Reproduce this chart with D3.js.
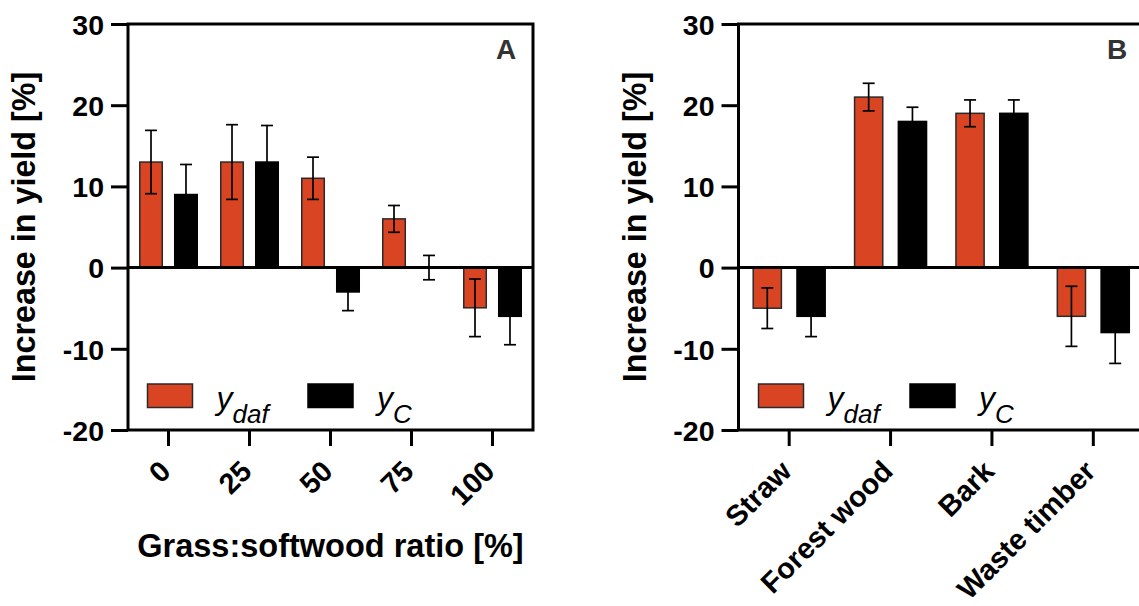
<!DOCTYPE html>
<html>
<head>
<meta charset="utf-8">
<script src="https://cdn.jsdelivr.net/npm/d3@7"></script>
<style>
  html, body { margin: 0; padding: 0; background: #fff; }
  svg { display: block; font-family: "Liberation Sans", Arial, Helvetica, sans-serif; }
</style>
</head>
<body>
<svg id="chart" width="1139" height="606"></svg>
<script>
// ---- data ----
const categoriesA = ["0", "25", "50", "75", "100"];
const ydafA = [13, 13, 11, 6, -4.95];
const ydafErrA = [3.9, 4.6, 2.6, 1.65, 3.55];
const yCA = [9, 13, -3, 0, -6];
const yCErrA = [3.7, 4.5, 2.3, 1.5, 3.5];

const categoriesB = ["Straw", "Forest wood", "Bark", "Waste timber"];
const ydafB = [-5, 21, 19, -6];
const ydafErrB = [2.5, 1.7, 1.65, 3.7];
const yCB = [-6, 18, 19, -8];
const yCErrB = [2.5, 1.75, 1.65, 3.8];

const yTicks = [-20, -10, 0, 10, 20, 30];
const seriesNames = ["ydaf", "yC"];
const seriesSub = ["daf", "C"];
const seriesColors = ["#D94423", "#000000"];

// ---- layout ----
const svg = d3.select("#chart");
const plotTop = 24, plotBottom = 430;
const y = d3.scaleLinear().domain([-20, 30]).range([plotBottom, plotTop]);

function panel(opts) {
  const { left, right, cats, vals, errs, letter, xTitle, legendX } = opts;
  const g = svg.append("g");
  const x = d3.scaleBand().domain(cats).range([left, right]).paddingInner(0).paddingOuter(0);
  const s = x.step();
  const xs = d3.scaleBand().domain(seriesNames)
    .range([0.145 * s, 0.855 * s]).paddingInner(0.356).paddingOuter(0);

  // bars
  seriesNames.forEach((name, si) => {
    const data = cats.map((c, i) => ({ c, v: vals[si][i], e: errs[si][i] }));
    g.append("g").selectAll("rect").data(data).join("rect")
      .attr("x", d => x(d.c) + xs(name))
      .attr("width", xs.bandwidth())
      .attr("y", d => y(Math.max(0, d.v)))
      .attr("height", d => Math.abs(y(d.v) - y(0)))
      .attr("fill", seriesColors[si])
      .attr("stroke", si === 0 ? "#2a2a2a" : "#000")
      .attr("stroke-width", 1.5);
    // error bars
    const eb = g.append("g").attr("stroke", "#000").attr("stroke-width", 1.7).attr("fill", "none");
    const cx = d => x(d.c) + xs(name) + xs.bandwidth() / 2;
    const cap = 12;
    eb.selectAll("line.v").data(data).join("line").attr("class", "v")
      .attr("x1", cx).attr("x2", cx)
      .attr("y1", d => y(d.v + d.e)).attr("y2", d => y(d.v - d.e));
    eb.selectAll("line.t").data(data).join("line").attr("class", "t")
      .attr("x1", d => cx(d) - cap / 2).attr("x2", d => cx(d) + cap / 2)
      .attr("y1", d => y(d.v + d.e)).attr("y2", d => y(d.v + d.e));
    eb.selectAll("line.b").data(data).join("line").attr("class", "b")
      .attr("x1", d => cx(d) - cap / 2).attr("x2", d => cx(d) + cap / 2)
      .attr("y1", d => y(d.v - d.e)).attr("y2", d => y(d.v - d.e));
  });

  // zero line
  g.append("line")
    .attr("x1", left).attr("x2", right)
    .attr("y1", y(0)).attr("y2", y(0))
    .attr("stroke", "#000").attr("stroke-width", 3);

  // frame
  g.append("rect")
    .attr("x", left).attr("y", plotTop)
    .attr("width", right - left).attr("height", plotBottom - plotTop)
    .attr("fill", "none").attr("stroke", "#000").attr("stroke-width", 3);

  // y axis
  const ya = g.append("g").attr("transform", `translate(${left},0)`)
    .call(d3.axisLeft(y).tickValues(yTicks).tickFormat(d => String(d))
      .tickSize(17).tickSizeOuter(0).tickPadding(7));
  ya.select(".domain").remove();
  ya.selectAll(".tick line").attr("stroke", "#000").attr("stroke-width", 3);
  ya.selectAll(".tick text")
    .attr("fill", "#000").attr("font-size", 28.5).attr("font-weight", "bold")
    .attr("font-family", '"Liberation Sans", Arial, sans-serif')
    .attr("dy", "0.36em");

  // x axis
  const xa = g.append("g").attr("transform", `translate(0,${plotBottom})`)
    .call(d3.axisBottom(x).tickSize(16).tickSizeOuter(0));
  xa.select(".domain").remove();
  xa.selectAll(".tick line").attr("stroke", "#000").attr("stroke-width", 3);
  xa.selectAll(".tick text")
    .attr("fill", "#000").attr("font-size", 29).attr("font-weight", "bold")
    .attr("font-family", '"Liberation Sans", Arial, sans-serif')
    .attr("x", 0).attr("y", 0).attr("dy", 0)
    .attr("text-anchor", "end")
    .attr("transform", "translate(4,43) rotate(-45)");

  // y title
  g.append("text")
    .attr("transform", `translate(${left - 93},${227}) rotate(-90)`)
    .attr("text-anchor", "middle")
    .attr("font-size", 32.3).attr("font-weight", "bold").attr("fill", "#000")
    .text("Increase in yield [%]");

  // x title
  if (xTitle) {
    g.append("text")
      .attr("x", (left + right) / 2).attr("y", 557)
      .attr("text-anchor", "middle")
      .attr("font-size", 32.5).attr("font-weight", "bold").attr("fill", "#000")
      .text(xTitle);
  }

  // panel letter
  g.append("text")
    .attr("x", right - 37).attr("y", 58.5)
    .attr("font-size", 28).attr("font-weight", "bold").attr("fill", "#333")
    .text(letter);

  // legend
  seriesNames.forEach((name, si) => {
    const lx = left + legendX[si];
    g.append("rect")
      .attr("x", lx).attr("y", 384)
      .attr("width", 45).attr("height", 23.5)
      .attr("fill", seriesColors[si])
      .attr("stroke", si === 0 ? "#2a2a2a" : "#000").attr("stroke-width", 1.5);
    const t = g.append("text")
      .attr("x", lx + 69).attr("y", 409)
      .attr("font-style", "italic").attr("fill", "#000");
    t.append("tspan").attr("font-size", 32).text("y");
    t.append("tspan").attr("font-size", 26).attr("dy", 13.5).text(seriesSub[si]);
  });
}

panel({
  left: 128, right: 533,
  cats: categoriesA, vals: [ydafA, yCA], errs: [ydafErrA, yCErrA],
  letter: "A", xTitle: "Grass:softwood ratio [%]",
  legendX: [19.5, 180]
});

panel({
  left: 738.5, right: 1144,
  cats: categoriesB, vals: [ydafB, yCB], errs: [ydafErrB, yCErrB],
  letter: "B", xTitle: null,
  legendX: [20, 171.5]
});
</script>
</body>
</html>
